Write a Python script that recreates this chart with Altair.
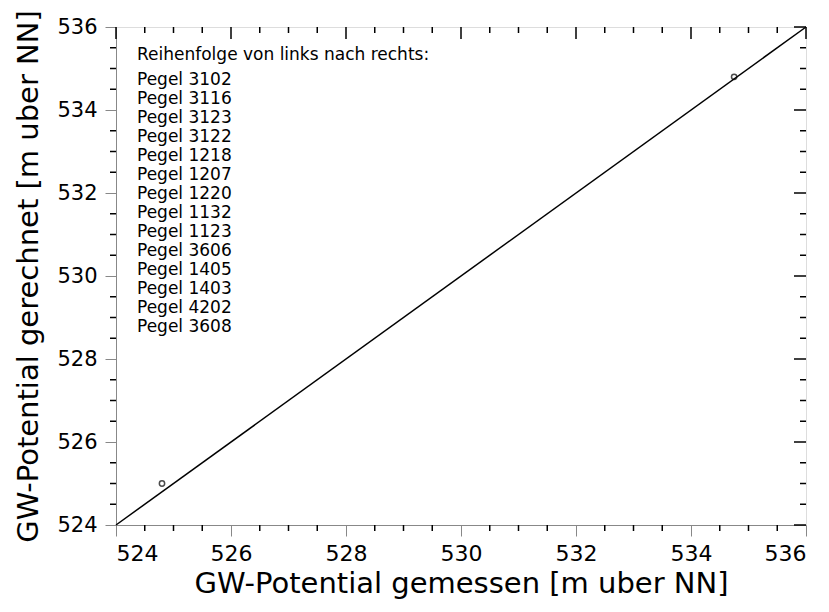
import altair as alt
import pandas as pd

# data
meas = [524.8, 534.75]
calc = [525.0, 534.8]
line_x = [524, 536]
line_y = [524, 536]
major_ticks = [524, 526, 528, 530, 532, 534, 536]
minor_ticks = [524.5, 525, 525.5, 526.5, 527, 527.5, 528.5, 529, 529.5,
               530.5, 531, 531.5, 532.5, 533, 533.5, 534.5, 535, 535.5]
header = "Reihenfolge von links nach rechts:"
pegel = ["Pegel 3102", "Pegel 3116", "Pegel 3123", "Pegel 3122", "Pegel 1218",
         "Pegel 1207", "Pegel 1220", "Pegel 1132", "Pegel 1123", "Pegel 3606",
         "Pegel 1405", "Pegel 1403", "Pegel 4202", "Pegel 3608"]

W, H = 690, 498
FONT = "DejaVu Sans"
FW = "normal"

xs = alt.Scale(domain=[524, 536], nice=False, zero=False)
ys = alt.Scale(domain=[524, 536], nice=False, zero=False)
xaxis = alt.Axis(values=major_ticks, tickSize=11, labelPadding=7, labelFontSize=22,
                 labelFont=FONT, titleFont=FONT, labelColor="black", titleColor="black",
                 labelFontWeight=FW,
                 title="GW-Potential gemessen [m uber NN]", titleFontSize=29,
                 titlePadding=5, titleFontWeight=FW, grid=False, format="d")
yaxis = alt.Axis(values=major_ticks, tickSize=11, labelPadding=8, labelFontSize=21,
                 labelFont=FONT, titleFont=FONT, labelColor="black", titleColor="black",
                 labelFontWeight=FW,
                 title="GW-Potential gerechnet [m uber NN]", titleFontSize=29,
                 titlePadding=13, titleFontWeight=FW, grid=False, format="d")

pts = pd.DataFrame({"x": meas, "y": calc})
ln = pd.DataFrame({"x": line_x, "y": line_y})
maj = pd.DataFrame({"v": major_ticks})
mnr = pd.DataFrame({"v": minor_ticks})

line = alt.Chart(ln).mark_line(color="black", strokeWidth=1.5).encode(
    x=alt.X("x:Q", scale=xs, axis=xaxis), y=alt.Y("y:Q", scale=ys, axis=yaxis))
points = alt.Chart(pts).mark_point(shape="circle", size=28, color="black",
                                   strokeWidth=1.5, filled=False).encode(
    x=alt.X("x:Q", scale=xs, axis=xaxis), y=alt.Y("y:Q", scale=ys, axis=yaxis))

def xt(df, y0, y1):
    return alt.Chart(df).mark_rule(color="black", strokeWidth=1.5).encode(
        x=alt.X("v:Q", scale=xs, axis=xaxis), y=alt.value(y0), y2=alt.value(y1))

def yt(df, x0, x1):
    return alt.Chart(df).mark_rule(color="black", strokeWidth=1.5).encode(
        y=alt.Y("v:Q", scale=ys, axis=yaxis), x=alt.value(x0), x2=alt.value(x1))

ticks = [
    xt(mnr, H, H + 6),        # bottom minor (outward)
    xt(maj, 0, 12),           # top major (inward)
    xt(mnr, 0, 6),            # top minor
    yt(mnr, -6, 0),           # left minor (outward)
    yt(maj, W - 12, W),       # right major (inward)
    yt(mnr, W - 6, W),        # right minor
]

one = pd.DataFrame({"a": [0]})
head = alt.Chart(one).mark_text(text=header, font=FONT, fontSize=17, fontWeight=FW,
                                align="left", baseline="middle", color="black").encode(
    x=alt.value(21), y=alt.value(28))
lst = alt.Chart(one).mark_text(text=pegel, font=FONT, fontSize=17, fontWeight=FW,
                               align="left", baseline="top", lineHeight=19,
                               color="black").encode(
    x=alt.value(21), y=alt.value(45))

chart = alt.layer(line, points, *ticks, head, lst).properties(
    width=W, height=H,
    autosize=alt.AutoSizeParams(type="none"),
    padding={"left": 108, "top": 19, "right": 15, "bottom": 79},
).configure_view(stroke="black", strokeWidth=1.5).configure_axis(
    domainColor="black", domainWidth=1.5, tickColor="black", tickWidth=1.5,
    labelColor="black", titleColor="black", labelFont=FONT, titleFont=FONT,
).configure(background="white", font=FONT)

chart.save("out.html", embed_options={"renderer": "svg", "actions": False})
